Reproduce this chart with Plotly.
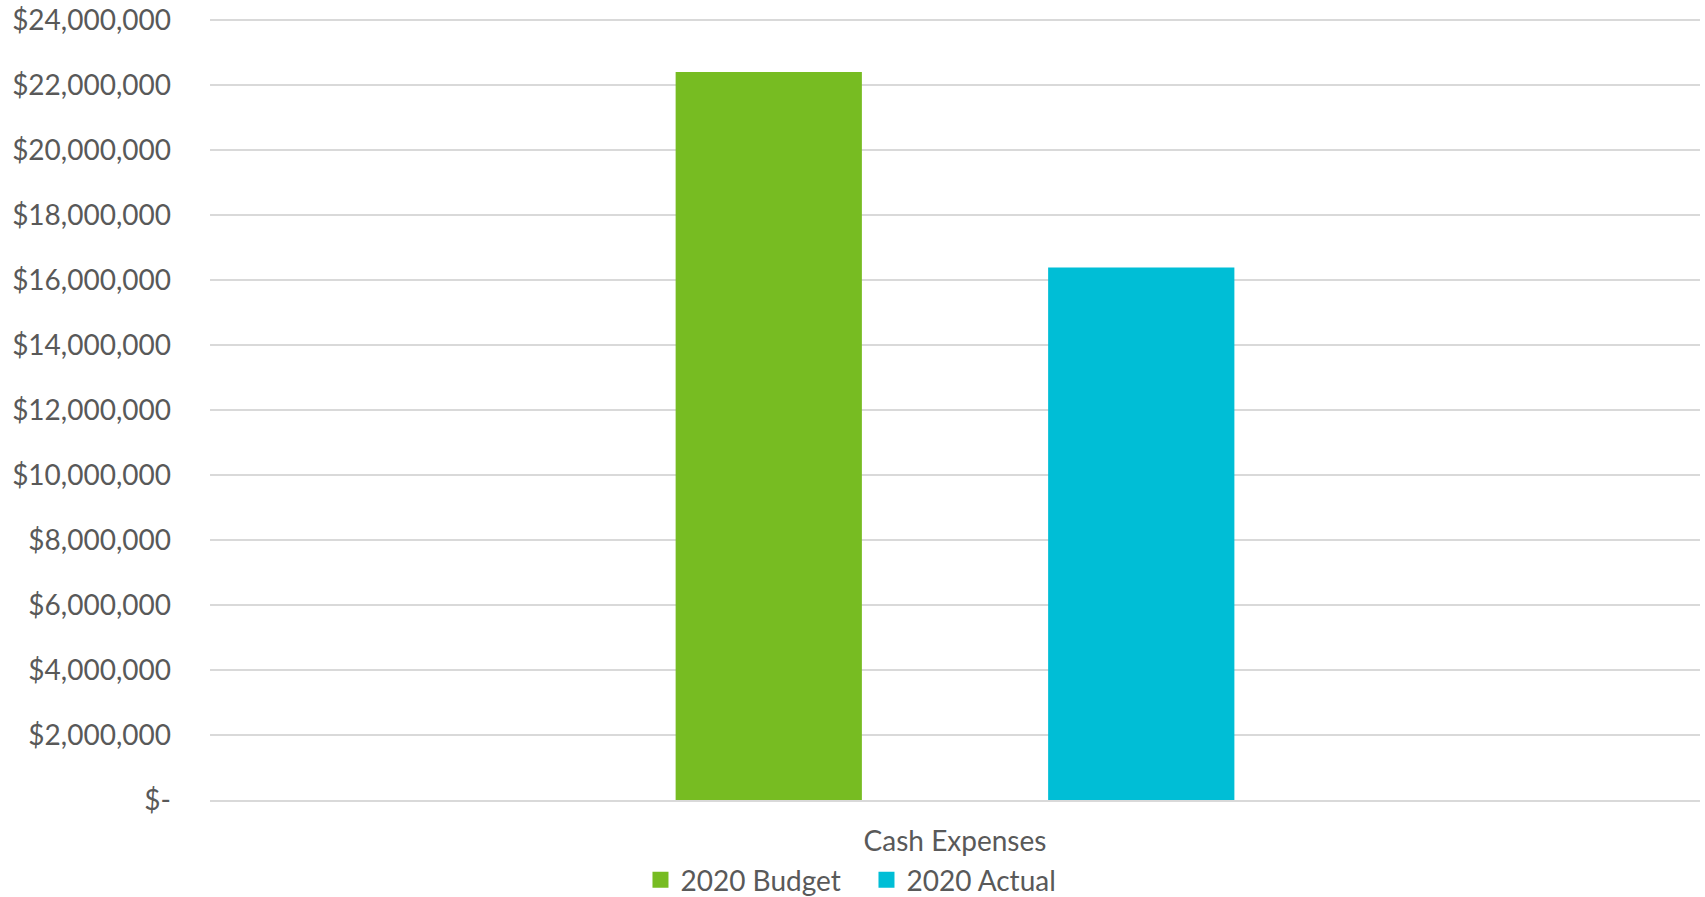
import plotly.graph_objects as go

categories = ["Cash Expenses"]
series_names = ["2020 Budget", "2020 Actual"]
budget_values = [22400000]
actual_values = [16380000]
series_colors = ["#77BC22", "#00BED6"]
tick_values = [0, 2000000, 4000000, 6000000, 8000000, 10000000, 12000000,
               14000000, 16000000, 18000000, 20000000, 22000000, 24000000]
tick_labels = ["$-"] + ["${:,.0f}".format(v) for v in tick_values[1:]]

FONT = "Lato, Open Sans, sans-serif"
TEXT = "#595959"

fig = go.Figure()
for name, vals, col in zip(series_names, [budget_values, actual_values], series_colors):
    fig.add_trace(go.Bar(x=categories, y=vals, name=name, showlegend=False,
                         legendgroup=name, marker=dict(color=col, line=dict(width=0))))
for name, col in zip(series_names, series_colors):
    fig.add_trace(go.Scatter(x=[None], y=[None], mode="markers", name=name,
                             legendgroup=name,
                             marker=dict(symbol="square", size=18, color=col)))

fig.update_layout(
    width=1705, height=897,
    paper_bgcolor="white", plot_bgcolor="white",
    barmode="group", bargap=0.5, bargroupgap=0.5,
    margin=dict(l=210, r=5, t=18, b=97, autoexpand=False),
    font=dict(family=FONT, color=TEXT, size=28),
    showlegend=True,
    legend=dict(orientation="h", xref="container", x=0.5082, xanchor="center",
                yref="paper", y=-0.1023, yanchor="middle",
                font=dict(size=28, color=TEXT), itemwidth=30, entrywidth=181,
                traceorder="normal", bgcolor="rgba(0,0,0,0)"),
    xaxis=dict(showgrid=False, showline=True, linecolor="#D9D9D9", linewidth=1.5,
               ticks="", tickfont=dict(size=28, color=TEXT), ticklabelstandoff=16,
               automargin=False),
    yaxis=dict(range=[0, 24060000], tickvals=tick_values, ticktext=tick_labels,
               showgrid=True, gridcolor="#D9D9D9", gridwidth=1.5,
               zeroline=False, showline=False, ticks="",
               tickfont=dict(size=28, color=TEXT), ticklabelstandoff=38,
               automargin=False),
)

fig.write_html("out.html", config={"displayModeBar": False},
               post_script="document.body.style.margin='0';document.body.style.overflow='hidden';")
